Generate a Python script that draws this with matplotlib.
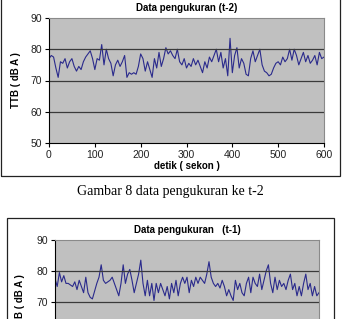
import matplotlib
matplotlib.use("Agg")
import matplotlib.pyplot as plt
import matplotlib.patches as mpatches
import numpy as np

# data (dB A every 5 s)
detik = list(range(0, 605, 5))
ttb_t2 = [77, 78, 77.5, 74, 71, 76, 75.5, 77, 74, 76,
          77, 74.5, 73, 74.5, 73.5, 76, 77.5, 78.5, 79.5, 77,
          73.5, 77, 76.5, 81.5, 75, 80, 77, 75.5, 71.5, 75,
          76.5, 74.5, 76, 78, 71, 72.5, 72, 72.5, 72, 74.5,
          78.5, 77, 73, 76, 73.5, 71, 77, 74, 79, 74.5,
          77, 80.5, 78.5, 79.5, 78, 77, 80, 76, 75, 77,
          74, 75.5, 74.5, 77, 75, 76.5, 74.5, 72.5, 76, 74,
          77.5, 76, 78, 80, 76, 79, 74, 77, 71.5, 83.5,
          72.5, 78, 80.5, 74, 77, 75.5, 72, 71.5, 77, 79.5,
          76, 78, 80, 75, 73, 72.5, 71.5, 72, 74, 75.5,
          76, 75, 77.5, 76, 77, 80, 76.5, 80, 78, 75,
          77, 79, 76, 78, 75.5, 76.5, 78, 75, 79, 77, 77.5]
ttb_t1 = [77.5, 75, 79.5, 76.5, 78.5, 76, 76, 75.5, 75, 76.5,
          74, 77, 75, 73, 78, 73, 71.5, 71, 73.5, 76,
          78, 82, 77, 76, 76.5, 77, 78, 76, 74, 72,
          76, 82, 76, 79, 80.5, 77, 73, 76, 79, 83.5,
          76, 72, 77, 72, 76, 70.5, 76, 73, 76, 74,
          72, 75, 71, 76, 73, 77, 72, 76, 78, 76,
          78, 73, 77, 75, 78, 76, 78, 77, 76, 79,
          83, 78, 76, 75, 76, 74.5, 77, 75, 72, 74,
          72, 70.5, 77, 74, 76, 73, 72, 76, 78, 73,
          78, 76, 75, 79, 74, 77, 80, 82, 76, 73,
          78, 74, 77, 75, 76, 74, 77, 79, 74, 76,
          72, 75, 72, 76, 79, 74, 76, 72, 75, 72, 73]
xticks = [0, 100, 200, 300, 400, 500, 600]
yticks = [50, 60, 70, 80, 90]
yticks_visible = [70, 80, 90]   # lower chart is cut off below 70

W, H = 342, 319
plt.rcParams['font.family'] = ['Liberation Sans', 'DejaVu Sans']

fig = plt.figure(figsize=(W / 100, H / 100), dpi=100)
fig.patch.set_facecolor('white')


def px_rect(x0, y0, x1, y1):
    # pixel box (top-left origin) -> figure fraction [l, b, w, h]
    return [x0 / W, (H - y1) / H, (x1 - x0) / W, (y1 - y0) / H]


def frame(x0, y0, x1, y1):
    l, b, w, h = px_rect(x0, y0, x1, y1)
    fig.patches.append(mpatches.Rectangle((l, b), w, h, transform=fig.transFigure,
                                          fill=False, edgecolor='#222222', linewidth=0.9))


def chart(ax, y, title, yt):
    ax.set_facecolor('#c0c0c0')
    ax.plot(detik, y, color='#2a2a8c', linewidth=0.8)
    ax.set_xlim(0, 600)
    ax.set_ylim(50, 90)
    ax.set_xticks(xticks)
    ax.set_yticks(yt)
    ax.tick_params(labelsize=7.5, length=3, width=0.8, direction='out', pad=2,
                   labelcolor='#222222')
    for v in [60, 70, 80]:
        ax.axhline(v, color='#3a3a3a', linewidth=0.9)
    for s in ['top', 'right']:
        ax.spines[s].set_color('#8a8a8a')
        ax.spines[s].set_linewidth(0.8)
    for s in ['left', 'bottom']:
        ax.spines[s].set_color('black')
        ax.spines[s].set_linewidth(0.8)
    ax.set_title(title, fontsize=7, fontweight='bold', pad=5)


# chart 1 (t-2)
frame(1, -5, 340, 176)
ax1 = fig.add_axes(px_rect(49, 18, 324, 143))
chart(ax1, ttb_t2, 'Data pengukuran (t-2)', yticks)
ax1.set_xlabel('detik ( sekon )', fontsize=7, fontweight='bold', labelpad=1)
ax1.set_ylabel('TTB ( dB A )', fontsize=7, fontweight='bold', labelpad=7)

fig.text(170 / W, 1 - 192 / H, 'Gambar 8 data pengukuran ke t-2', ha='center', va='center',
         fontsize=10, family=['Liberation Serif', 'DejaVu Serif'])

# chart 2 (t-1), cut off at the bottom of the picture
frame(7, 218, 334, 330)
ax2 = fig.add_axes(px_rect(55, 240, 319, 364))
chart(ax2, ttb_t1, 'Data pengukuran   (t-1)', yticks_visible)
ax2.tick_params(labelbottom=False)
ax2.set_ylabel('TTB ( dB A )', fontsize=7, fontweight='bold', labelpad=8)

fig.savefig('out.png', dpi=100)
